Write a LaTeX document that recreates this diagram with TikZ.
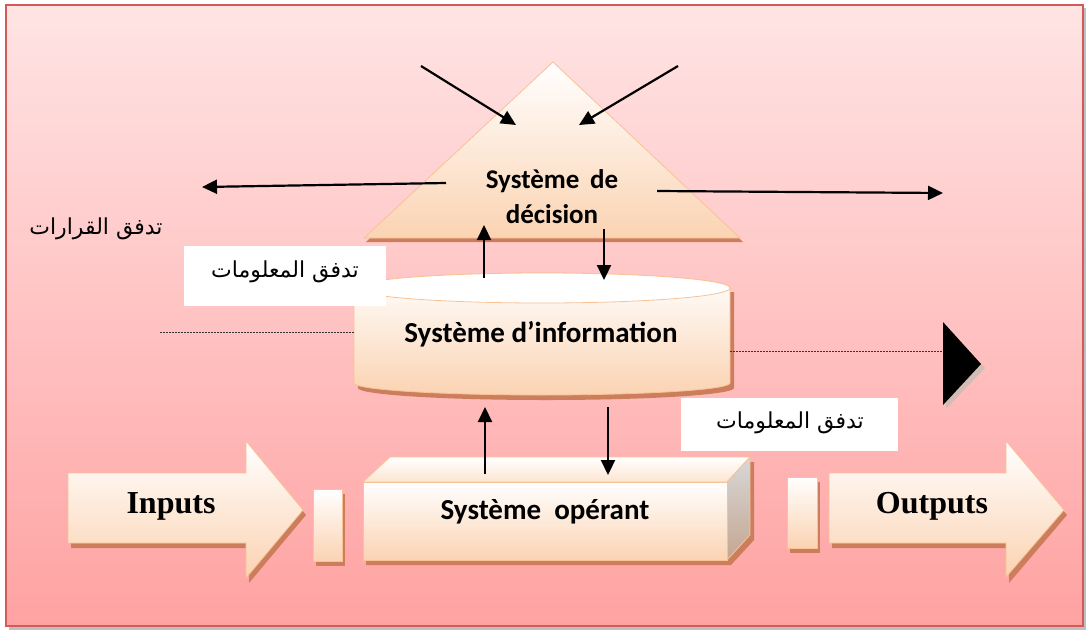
\documentclass[tikz,border=0pt]{standalone}
\usepackage{fontspec}
\setmainfont{Liberation Serif}
\newfontfamily\calibrifont{Carlito}
\newfontfamily\arabicfont[Script=Arabic]{DejaVu Sans}
\TeXXeTstate=1
\usetikzlibrary{arrows.meta}
\definecolor{bgtop}{HTML}{FFE4E4}
\definecolor{bgbot}{HTML}{FFA2A2}
\definecolor{peach}{HTML}{FBD3B2}
\definecolor{edgeor}{HTML}{F8C296}
\definecolor{shad}{HTML}{CC7D5C}
\definecolor{framecol}{HTML}{D45A5A}
\definecolor{sidegreytop}{HTML}{D8D8D8}
\definecolor{sidegreybot}{HTML}{C4A690}
\tikzset{
  shapefill/.style={top color=white, bottom color=peach, draw=edgeor, line width=0.8pt},
  shadowfill/.style={fill=shad, draw=none},
  flow/.style={line width=2.2pt, -{Triangle[length=15pt,width=14pt]}},
  sysl/.style={font=\calibrifont\bfseries\fontsize{29}{34}\selectfont, align=center, inner sep=0pt},
  decl/.style={font=\calibrifont\bfseries\fontsize{27}{35}\selectfont, align=center, inner sep=0pt},
  ioL/.style={font=\bfseries\fontsize{32}{36}\selectfont, inner sep=0pt},
  arl/.style={font=\arabicfont\fontsize{22}{26}\selectfont, inner sep=0pt},
  whitebox/.style={fill=white, draw=none, inner sep=0pt},
  dotline/.style={line width=0.7pt, draw=black!80, dash pattern=on 1.6pt off 1.4pt}
}
\begin{document}
\begin{tikzpicture}[x=1pt,y=-1pt]
\useasboundingbox (0,0) rectangle (1086,630);
\fill[white] (0,0) rectangle (1086,630);
% frame
\fill[black!25] (9,8) rectangle (1086,630);
\shade[top color=bgtop, bottom color=bgbot] (6,5) rectangle (1083,626);
\draw[framecol, line width=1.4pt] (6,5) rectangle (1083,626);

% ---- triangle (decision system)
\fill[shadowfill] (366,242) -- (555,66) -- (743,242) -- cycle;
\path[shapefill] (364,238) -- (553,62) -- (740,238) -- cycle;
\node[decl] (dec) at (552,197) {Syst\`eme\ \,de\\d\'ecision};

% ---- cylinder (information system)
\fill[shadowfill] (358,292) -- (358,388) arc[start angle=180, end angle=0, x radius=188, y radius=12] -- (734,292) -- cycle;
\path[shapefill] (354,288) -- (354,383) arc[start angle=180, end angle=0, x radius=188, y radius=12] -- (730,288) arc[start angle=0, end angle=-180, x radius=188, y radius=15] -- cycle;
\path[fill=white, draw=edgeor, line width=0.8pt] (542,288) ellipse[x radius=188, y radius=15];
\node[sysl] (info) at (541,334) {Syst\`eme d’information};

% ---- operant (cuboid)
\fill[shadowfill] (366,487) -- (366,565) -- (731,565) -- (754,540) -- (754,462) -- cycle;
\path[top color=white, bottom color=peach!60, draw=edgeor, line width=0.8pt] (363,482) -- (390,457) -- (750,457) -- (727,482) -- cycle;
\path[top color=sidegreytop, bottom color=sidegreybot, draw=edgeor, line width=0.8pt] (727,482) -- (750,457) -- (750,535) -- (727,560) -- cycle;
\path[shapefill] (363,482) rectangle (727,560);
\node[sysl] (oper) at (545,512) {Syst\`eme\ \ op\'erant};

% ---- inputs arrow
\fill[shadowfill] (71,478) -- (249,478) -- (249,446) -- (306,515) -- (249,583) -- (249,548) -- (71,548) -- cycle;
\path[shapefill] (68,473) -- (246,473) -- (246,441) -- (303,510) -- (246,578) -- (246,543) -- (68,543) -- cycle;
\node[ioL] (inp) at (171,506) {Inputs};

% small rectangles
\fill[shadowfill] (316,494) rectangle (345,566);
\path[shapefill] (313,489) rectangle (342,561);
\fill[shadowfill] (790,482) rectangle (820,553);
\path[shapefill] (787,477) rectangle (817,548);

% ---- outputs arrow
\fill[shadowfill] (832,478) -- (1009,478) -- (1009,446) -- (1067,515) -- (1009,583) -- (1009,548) -- (832,548) -- cycle;
\path[shapefill] (829,473) -- (1006,473) -- (1006,441) -- (1064,510) -- (1006,577) -- (1006,543) -- (829,543) -- cycle;
\node[ioL] (outp) at (932,506) {Outputs};

% ---- black triangle with shadow
\fill[black!30!shad!40] (946,327) -- (985,368) -- (946,409) -- cycle;
\fill[black] (943,322) coordinate (bt1) -- (981,364) coordinate (bt2) -- (943,405) coordinate (bt3) -- cycle;

% ---- dotted lines
\coordinate (dotLa) at (160,332);
\coordinate (dotLb) at (354,332);
\coordinate (dotRa) at (730,351);
\draw[dotline] (dotLa) -- (dotLb);
\draw[dotline] (dotRa) -- (bt1 |- dotRa);

% ---- white label boxes
\node[whitebox, minimum width=202pt, minimum height=60pt] (box1) at (285,276) {};
\node[arl] (t1) at (285,272) {\beginR تدفق المعلومات\endR};
\node[whitebox, minimum width=217pt, minimum height=53pt] (box2) at (789.5,424.5) {};
\node[arl] (t2) at (790,423) {\beginR تدفق المعلومات\endR};
\node[arl] (t3) at (96,229) {\beginR تدفق القرارات\endR};

% ---- arrows
\coordinate (a1s) at (421,66);  \coordinate (a1e) at (516,125);
\coordinate (a2s) at (678,66);  \coordinate (a2e) at (579,125);
\coordinate (a3s) at (446,183); \coordinate (a3e) at (202,187);
\coordinate (a4s) at (657,191); \coordinate (a4e) at (943,193);
\coordinate (a5s) at (484,278); \coordinate (a5e) at (484,225);
\coordinate (a6s) at (604,229); \coordinate (a6e) at (604,280);
\coordinate (a7s) at (485,474); \coordinate (a7e) at (485,407);
\coordinate (a8s) at (608,407); \coordinate (a8e) at (608,475);
\draw[flow] (a1s) -- (a1e);
\draw[flow] (a2s) -- (a2e);
\draw[flow] (a3s) -- (a3e);
\draw[flow] (a4s) -- (a4e);
\draw[flow] (a5s) -- (a5e);
\draw[flow] (a6s) -- (a6e);
\draw[flow] (a7s) -- (a7e);
\draw[flow] (a8s) -- (a8e);
\end{tikzpicture}
\end{document}
